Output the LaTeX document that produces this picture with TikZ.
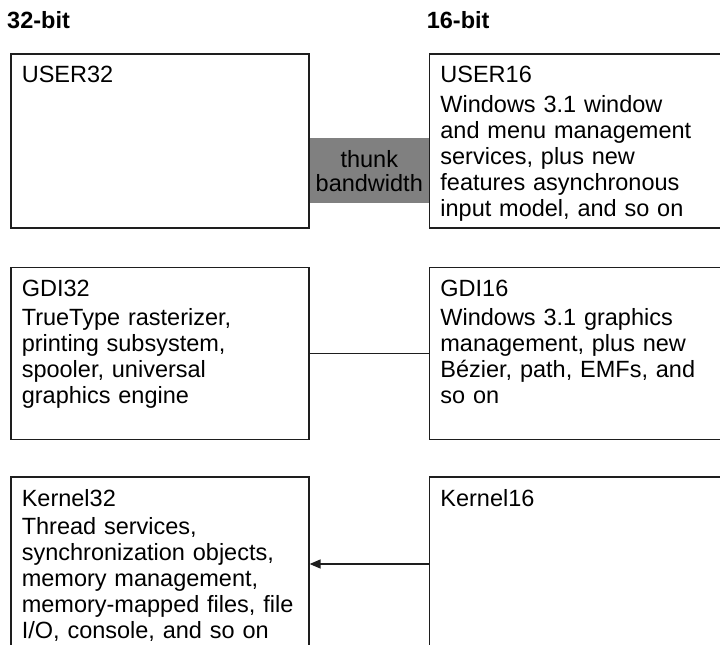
\documentclass[tikz,border=0pt]{standalone}
\usepackage{fontspec}
\setmainfont{Liberation Sans}
\usetikzlibrary{arrows.meta,positioning,backgrounds}
\definecolor{Ink}{HTML}{1E1E1E}
\definecolor{ThunkGray}{HTML}{808080}
\tikzset{
  unitbox/.style={draw=Ink, line width=1.6pt, align=left, text width=276pt, inner xsep=11pt, inner ysep=4pt, text height=25pt, font=\fontsize{23.5}{26}\selectfont},
  cutoff/.style={text width=282pt},
  heading/.style={font=\bfseries\fontsize{23.5}{26}\selectfont, inner sep=0pt, anchor=base west},
  thunkbox/.style={fill=ThunkGray, minimum width=119pt, minimum height=65pt, inner sep=0pt, align=center, font=\fontsize{23.5}{23.5}\selectfont},
  link/.style={line width=1.5pt, draw=Ink},
  arrow/.style={-{Triangle[length=11pt,width=9pt]}, line width=1.5pt, draw=Ink}
}
\begin{document}
\begin{tikzpicture}[x=1pt, y=1pt]
  \useasboundingbox (0,0) rectangle (720,-645);

  \node[unitbox, text depth=141pt, anchor=north west] (user32) at (10,-53) {USER32};
  \node[unitbox, cutoff, text depth=141pt, right=119pt of user32] (user16) {USER16\\[3.5pt]Windows 3.1 window\\and menu management\\services, plus new\\features asynchronous\\input model, and so on};

  \node[unitbox, text depth=139pt, below=38pt of user32] (gdi32) {GDI32\\[3pt]TrueType rasterizer,\\printing subsystem,\\spooler, universal\\graphics engine};
  \node[unitbox, cutoff, text depth=139pt, below=38pt of user16] (gdi16) {GDI16\\[3pt]Windows 3.1 graphics\\management, plus new\\B\'ezier, path, EMFs, and\\so on};

  \node[unitbox, text depth=137pt, below=36pt of gdi32] (kernel32) {Kernel32\\[2pt]Thread services,\\synchronization objects,\\memory management,\\memory-mapped files, file\\I/O, console, and so on};
  \node[unitbox, cutoff, text depth=180pt, below=36pt of gdi16] (kernel16) {Kernel16};

  \node[heading] (head32) at ([shift={(-3pt,25pt)}]user32.north west) {32-bit};
  \node[heading] (head16) at ([shift={(-2pt,25pt)}]user16.north west) {16-bit};

  \begin{scope}[on background layer]
    \node[thunkbox, anchor=south west] (thunk) at ([yshift=25pt]user32.south east) {thunk\\bandwidth};
  \end{scope}

  \draw[link] (gdi32) -- (gdi16);
  \draw[arrow] ([yshift=-2pt]kernel16.west |- kernel32.east) -- ([yshift=-2pt]kernel32.east);
\end{tikzpicture}
\end{document}
